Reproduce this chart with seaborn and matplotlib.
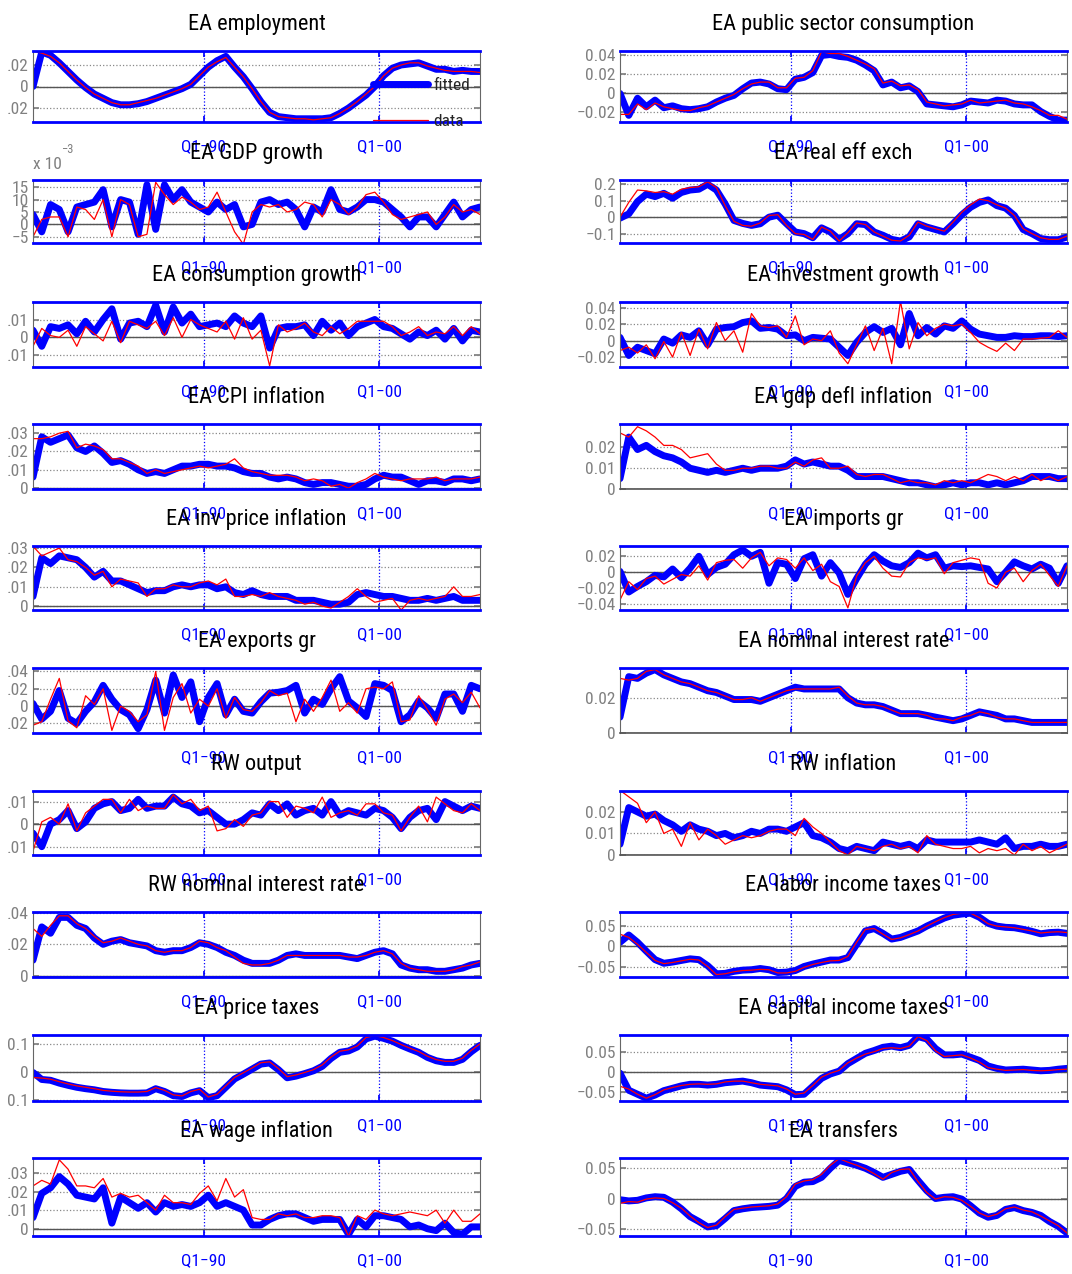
import numpy as np
import matplotlib
matplotlib.use("Agg")
import matplotlib.pyplot as plt
import seaborn as sns
from matplotlib import font_manager

sns.set_theme(style="white")

# look for a narrow / condensed sans face (MATLAB-style Helvetica Narrow look)
def _plain(f):
    low = f.fname.lower()
    return not any(k in low for k in ["bold", "italic", "oblique", "light", "thin", "medium", "black"])

narrow_face = None
for key in ["liberationsansnarrow", "robotocondensed", "dejavusanscondensed", "narrow", "condensed"]:
    hits = [f for f in font_manager.fontManager.ttflist
            if key in f.fname.lower().replace("-", "").replace("_", "") and _plain(f)]
    if hits:
        narrow_face = hits[0]
        break

if narrow_face is not None:
    plt.rcParams["font.family"] = [narrow_face.name, "DejaVu Sans"]
    plt.rcParams["font.stretch"] = narrow_face.stretch
    size_k = 1.0
else:
    plt.rcParams["font.family"] = ["Liberation Sans", "DejaVu Sans"]
    size_k = 0.85

# Const
fit_color = "#0000FF"
data_color = "#FF0000"
grey = "#808080"

# quarter index (0 = Q2-80), one sample every two quarters
quarters = np.arange(0, 104, 2)
xtick_pos = [39, 79]
xtick_labels = ["Q1\u221290", "Q1\u221200"]

SCALE = 1e-3  # series below are stored in thousandths

emp_fit = [0, 32, 29, 22, 14, 6, -1, -7, -11, -15, -17, -17, -16,
           -14, -11, -8, -5, -2, 2, 10, 18, 24, 28, 18, 9, -2,
           -14, -24, -28, -29, -30, -30, -30, -30, -29, -25, -20, -14, -8,
           0, 10, 17, 20, 21, 22, 19, 16, 16, 14, 15, 14, 14]
emp_data = [33, 31, 28, 22, 14, 6, -1, -7, -11, -15, -17, -17, -15,
            -13, -11, -8, -5, -2, 2, 10, 18, 23, 27, 18, 9, -2,
            -14, -24, -28, -29, -30, -30, -31, -30, -29, -25, -20, -14, -7,
            0, 10, 17, 20, 22, 22, 19, 17, 15, 14, 14, 14, 13]

gdp_fit = [4, -3, 8, 6, -3, 7, 8, 9, 14, -1, 10, 9, -4,
           16, -2, 16, 10, 14, 9, 7, 5, 9, 6, 8, -1, 0,
           9, 10, 8, 9, 6, -1, 7, 5, 14, 6, 5, 7, 10,
           10, 9, 6, 3, -1, 3, 3, -1, 4, 9, 3, 6, 7]
gdp_data = [-5, 2, 3, 3, -5, 7, 6, 2, 10, -5, 10, 8, -5,
            -4, 17, 12, 8, 11, 9, 6, 7, 13, 5, -3, -8, 5,
            8, 7, 8, 5, 6, 9, 8, 3, 10, 8, 4, 7, 12,
            13, 9, 4, 2, 3, 4, 5, 0, 3, 8, 5, 6, 4]

pubc_fit = [0, -23, -5, -14, -7, -15, -13, -16, -17, -16, -14, -9, -5,
            -2, 5, 11, 12, 10, 5, 4, 15, 17, 22, 40, 41, 39,
            38, 35, 30, 24, 9, 12, 6, 8, 2, -11, -12, -13, -14,
            -12, -8, -9, -10, -7, -8, -11, -12, -12, -19, -24, -28, -28]
pubc_data = [-22, -22, -11, -17, -10, -14, -16, -18, -18, -15, -13, -9, -5,
             -1, 5, 10, 12, 12, 6, 6, 16, 17, 24, 44, 42, 42,
             39, 35, 31, 26, 11, 13, 8, 9, 4, -9, -11, -13, -12,
             -11, -7, -10, -9, -8, -7, -10, -11, -14, -18, -23, -23, -27]

reer_fit = [-6, 20, 95, 140, 125, 145, 115, 150, 165, 170, 200, 165, 80,
            -20, -38, -50, -40, 0, 12, -40, -90, -100, -125, -65, -90, -135,
            -100, -40, -45, -90, -110, -135, -145, -120, -40, -60, -75, -90, -40,
            15, 60, 90, 105, 70, 55, 10, -75, -100, -130, -137, -137, -121]
reer_data = [0, 90, 165, 160, 150, 155, 140, 170, 180, 185, 215, 180, 70,
             -25, -50, -55, -35, 10, 15, -50, -100, -105, -135, -60, -85, -145,
             -95, -35, -45, -90, -115, -140, -145, -110, -30, -55, -70, -85, -30,
             30, 75, 110, 100, 75, 55, 10, -70, -100, -125, -135, -135, -115]

cons_fit = [4, -5, 6, 5, 7, 2, 9, 3, 10, 16, -1, 8, 9,
            6, 18, 3, 17, 8, 13, 6, 7, 8, 6, 12, 8, 6,
            12, -6, 5, 6, 6, 7, 1, 9, 4, 8, 1, 6, 8,
            10, 6, 5, 2, -1, 3, 1, 4, -1, 5, -2, 4, 3]
cons_data = [-5, 5, 1, 0, 4, -5, 6, 2, -2, 9, -3, 9, 7,
             5, 9, 1, 11, 0, 10, 7, 5, 3, 9, -1, 11, -1,
             4, -16, 7, 3, 5, 8, 3, 1, 6, 2, 5, 9, 9,
             9, 9, 6, 1, 3, 6, 1, 3, 2, 6, 1, 6, 2]

inv_fit = [4, -18, -8, -12, -16, 2, -3, 7, 4, 12, -5, 14, 16,
           17, 22, 24, 15, 16, 14, 6, 7, 0, 4, 3, 2, -8,
           -18, -2, 10, 17, 10, 15, -5, 33, 6, 16, 8, 18, 15,
           24, 14, 8, 6, 4, 4, 6, 5, 5, 6, 6, 5, 6]
inv_data = [-12, -8, -15, -5, -22, -1, -20, 10, -18, 14, -10, 22, 0,
            12, -14, 33, 18, 16, 18, 4, 30, -5, 2, 0, 12, -15,
            -28, -5, 18, -12, 15, -28, 48, -10, 22, 6, 15, 20, 18,
            20, 10, -2, -8, -13, -3, -12, 2, 2, 3, 4, 12, 4]

cpi_fit = [6, 28, 25, 27, 29, 22, 20, 23, 19, 14, 15, 13, 10,
           8, 9, 8, 10, 12, 12, 13, 13, 12, 12, 11, 9, 8,
           8, 6, 5, 6, 5, 3, 2, 3, 3, 2, 1, 1, 2,
           5, 7, 6, 6, 4, 2, 4, 4, 3, 5, 5, 4, 5]
cpi_data = [27, 27, 28, 30, 31, 22, 24, 23, 21, 16, 16, 14, 12,
            8, 10, 8, 9, 10, 11, 12, 11, 12, 13, 16, 11, 9,
            8, 7, 7, 7, 6, 4, 5, 4, 1, 2, 0, 3, 5,
            8, 6, 5, 4, 5, 5, 5, 6, 4, 5, 5, 5, 6]

defl_fit = [5, 25, 19, 21, 18, 16, 15, 13, 10, 9, 8, 9, 8,
            9, 10, 9, 10, 10, 10, 11, 14, 12, 13, 12, 11, 11,
            9, 6, 6, 6, 6, 5, 4, 3, 3, 2, 1, 2, 3,
            2, 3, 3, 2, 3, 2, 3, 4, 6, 6, 6, 5, 5]
defl_data = [27, 25, 30, 28, 25, 21, 21, 19, 15, 16, 17, 12, 9,
             9, 10, 10, 11, 11, 10, 10, 13, 11, 14, 15, 10, 10,
             11, 7, 6, 7, 7, 5, 3, 4, 3, 3, 2, 4, 3,
             4, 3, 5, 7, 6, 4, 6, 4, 7, 4, 6, 4, 6]

invp_fit = [5, 25, 22, 26, 25, 24, 20, 15, 18, 13, 13, 11, 9,
            7, 8, 8, 10, 11, 10, 11, 11, 9, 10, 7, 6, 8,
            6, 5, 5, 5, 3, 3, 3, 2, 1, 1, 2, 6, 7,
            6, 5, 5, 4, 3, 3, 4, 3, 4, 5, 3, 3, 3]
invp_data = [31, 26, 28, 30, 24, 23, 20, 16, 18, 10, 14, 13, 12,
             5, 9, 9, 11, 10, 10, 12, 13, 11, 14, 5, 5, 6,
             5, 7, 5, 4, 3, 1, 2, 0, -1, 2, 5, 9, 5,
             2, 3, 4, -2, 3, 4, 3, 4, 5, 10, 5, 5, 6]

imp_fit = [1, -25, -18, -12, -4, -6, 4, -7, 5, 20, -3, 6, 10,
           22, 28, 20, 25, -14, 12, 10, -8, 17, 22, -5, 12, -1,
           -28, -8, 10, 22, 14, 8, 6, 12, 24, 18, 22, 5, 8,
           7, 8, 6, 4, -12, 0, 13, 8, 4, 10, 5, -14, 8]
imp_data = [-35, -12, -22, -8, -5, -15, -9, -3, -5, 8, -10, 12, 15,
            16, 5, 18, 25, 8, 18, 16, 5, 18, 2, 10, -12, -18,
            -45, -5, 12, 20, 5, -5, -6, 12, 18, 16, 18, -2, 12,
            15, 18, 16, -14, -20, 0, 5, -12, 2, 10, -4, -18, 8]

exp_fit = [3, -15, -6, 18, -14, -20, -6, 5, 24, 8, -4, -10, -26,
           -4, 30, -8, 36, 10, 28, -18, 10, 26, -10, 8, -6, -8,
           5, 15, 16, 18, 24, -8, 8, 2, 20, 34, 6, -2, -12,
           26, 24, 18, -18, -10, 6, -2, -14, 14, 14, -6, 24, 20]
exp_data = [-22, -18, 8, 32, -17, -25, 12, 2, 20, -28, 0, -6, -18,
            -10, 40, -28, 10, 26, -8, 8, 0, 20, -14, 10, -4, -6,
            4, 18, 12, 15, -18, 8, -6, 10, 30, -6, 4, -8, 20,
            22, 20, 28, -18, -16, 12, -4, -22, 8, 14, 4, 16, -2]

rate_fit = [9, 32, 31, 34, 36, 33, 31, 29, 28, 26, 24, 23, 21,
            19, 19, 19, 18, 20, 22, 24, 26, 25, 25, 25, 25, 25,
            20, 17, 16, 16, 15, 13, 11, 11, 11, 10, 9, 8, 7,
            8, 10, 12, 11, 10, 8, 8, 7, 6, 6, 6, 6, 6]
rate_data = [31, 30, 31, 35, 36, 33, 31, 29, 28, 26, 24, 23, 21,
             19, 19, 20, 18, 20, 22, 24, 25, 25, 25, 25, 25, 26,
             21, 17, 16, 16, 15, 13, 11, 11, 11, 10, 8, 8, 7,
             9, 10, 12, 11, 9, 8, 8, 7, 6, 6, 6, 6, 6]

rwy_fit = [-4, -10, 0, 2, 6, -2, 1, 7, 9, 10, 6, 7, 11,
           7, 8, 8, 12, 9, 8, 5, 6, 3, 0, 0, 2, 5,
           4, 9, 6, 9, 4, 6, 7, 4, 10, 4, 6, 5, 4,
           7, 6, 3, -2, 3, 6, 7, 2, 10, 8, 6, 8, 7]
rwy_data = [-12, 1, 3, 0, 9, -3, 5, 8, 11, 11, 5, 11, 6,
            8, 7, 7, 13, 9, 11, 6, 8, -3, -2, 2, -1, 4,
            5, 10, 10, 3, 8, 7, 5, 12, 3, 5, 6, 4, 9,
            9, 5, 4, -3, 3, 8, 1, 12, 9, 6, 5, 9, 6]

rwpi_fit = [5, 22, 20, 18, 19, 16, 14, 11, 14, 12, 11, 9, 10,
            8, 9, 11, 10, 12, 12, 11, 13, 15, 9, 8, 6, 3,
            2, 4, 3, 2, 6, 5, 4, 5, 3, 7, 6, 6, 6,
            6, 6, 7, 6, 5, 8, 3, 4, 4, 5, 4, 4, 5]
rwpi_data = [30, 27, 24, 15, 20, 10, 12, 4, 15, 7, 12, 9, 5,
             7, 9, 8, 9, 11, 12, 12, 9, 17, 13, 10, 6, 2,
             0, 4, 3, 2, 4, 5, 3, 4, 1, 9, 5, 4, 3,
             3, 4, 1, 3, 2, 3, 0, 5, 2, 4, 1, 3, 5]

rwr_fit = [10, 31, 27, 37, 37, 32, 30, 24, 20, 22, 23, 21, 20,
           19, 16, 15, 16, 16, 18, 21, 20, 18, 15, 13, 10, 8,
           8, 8, 10, 13, 14, 13, 13, 13, 13, 13, 12, 11, 13,
           15, 16, 14, 7, 5, 4, 4, 3, 3, 4, 5, 7, 8]
rwr_data = [30, 25, 32, 38, 38, 33, 30, 25, 21, 22, 24, 22, 20,
            19, 16, 15, 16, 16, 18, 22, 21, 18, 16, 12, 8, 7,
            7, 8, 10, 13, 13, 13, 13, 13, 13, 13, 12, 12, 13,
            15, 16, 14, 8, 5, 4, 3, 3, 3, 4, 6, 7, 9]

labt_fit = [10, 28, 10, -12, -33, -42, -39, -35, -31, -33, -48, -68, -67,
            -62, -59, -58, -55, -58, -65, -64, -60, -50, -44, -39, -34, -34,
            -28, 5, 38, 44, 32, 18, 22, 30, 38, 50, 60, 70, 77,
            80, 82, 72, 57, 50, 47, 46, 42, 37, 31, 34, 35, 32]
labt_data = [30, 22, 5, -15, -35, -43, -40, -36, -32, -34, -50, -70, -68,
             -63, -60, -59, -57, -58, -66, -66, -62, -52, -45, -40, -36, -35,
             -25, 10, 42, 44, 30, 17, 21, 29, 38, 50, 61, 71, 79,
             82, 82, 71, 56, 50, 48, 46, 42, 38, 33, 35, 36, 34]

ptax_fit = [-2, -27, -30, -40, -48, -55, -60, -64, -70, -73, -75, -76, -76,
            -75, -60, -70, -85, -88, -75, -67, -92, -85, -55, -25, -8, 10,
            28, 32, 8, -21, -15, -6, 4, 20, 48, 70, 75, 89, 118,
            128, 120, 110, 95, 82, 70, 52, 40, 34, 34, 45, 72, 95]
ptax_data = [-20, -22, -26, -35, -43, -50, -55, -60, -66, -69, -71, -72, -72,
             -70, -56, -66, -82, -86, -70, -62, -90, -80, -50, -20, -3, 14,
             33, 36, 12, -17, -11, -2, 8, 25, 53, 74, 79, 93, 123,
             130, 123, 112, 98, 85, 73, 56, 44, 38, 38, 49, 77, 100]

ctax_fit = [-2, -45, -55, -65, -57, -46, -40, -34, -30, -30, -32, -30, -26,
            -24, -22, -26, -32, -34, -36, -44, -56, -55, -35, -15, -4, 3,
            22, 35, 48, 55, 63, 66, 62, 68, 90, 84, 60, 44, 44,
            46, 38, 30, 16, 10, 6, 7, 8, 6, 4, 5, 8, 10]
ctax_data = [-35, -42, -55, -65, -56, -44, -38, -33, -30, -29, -30, -29, -24,
             -22, -22, -26, -30, -32, -34, -42, -55, -52, -33, -12, -2, 5,
             24, 36, 46, 52, 60, 62, 60, 66, 90, 80, 54, 40, 42,
             44, 36, 26, 12, 8, 5, 6, 7, 5, 4, 5, 7, 8]

wage_fit = [6, 19, 22, 28, 24, 18, 17, 16, 22, 3, 17, 14, 11,
            14, 9, 14, 12, 13, 12, 14, 18, 12, 14, 12, 10, 2,
            2, 5, 7, 8, 8, 6, 4, 5, 5, 5, -3, 5, 1,
            7, 7, 6, 5, 1, 2, 0, -1, 3, -2, -3, 1, 1]
wage_data = [23, 26, 24, 37, 32, 23, 23, 22, 27, 17, 19, 17, 18,
             14, 10, 18, 14, 14, 13, 19, 23, 15, 27, 17, 21, 6,
             5, 5, 8, 7, 8, 6, 6, 7, 7, 6, -4, 7, 5,
             10, 8, 7, 8, 9, 8, 7, 10, 3, 10, 4, 4, 8]

trans_fit = [-2, -4, -3, 1, 3, 2, -6, -17, -30, -38, -47, -45, -33,
             -20, -17, -15, -14, -13, -11, 0, 20, 27, 28, 35, 50, 63,
             59, 55, 50, 43, 35, 40, 45, 48, 30, 13, 0, 2, 3,
             -1, -12, -24, -31, -28, -18, -15, -20, -23, -28, -38, -46, -57]
trans_data = [-8, -5, -6, -1, 1, 0, -7, -16, -29, -40, -48, -44, -30,
              -18, -16, -14, -13, -12, -9, 3, 24, 29, 31, 40, 55, 66,
              60, 55, 49, 41, 32, 43, 48, 49, 28, 10, -1, 3, 2,
              -3, -13, -24, -30, -26, -17, -14, -19, -22, -29, -37, -45, -57]

M = "\u2212"
# (title, fitted, data, ylim, yticks, ytick labels) -- left column then right column
left_panels = [
    ("EA employment", emp_fit, emp_data, (-0.033, 0.033), [-0.02, 0, 0.02], [".02", "0", ".02"]),
    ("EA GDP growth", gdp_fit, gdp_data, (-0.0075, 0.0179), [-0.005, 0, 0.005, 0.01, 0.015],
     [M + "5", "0", "5", "10", "15"]),
    ("EA consumption growth", cons_fit, cons_data, (-0.0166, 0.0198), [-0.01, 0, 0.01], [".01", "0", ".01"]),
    ("EA CPI inflation", cpi_fit, cpi_data, (-0.0005, 0.035), [0, 0.01, 0.02, 0.03], ["0", ".01", ".02", ".03"]),
    ("EA inv price inflation", invp_fit, invp_data, (-0.002, 0.0311), [0, 0.01, 0.02, 0.03],
     ["0", ".01", ".02", ".03"]),
    ("EA exports gr", exp_fit, exp_data, (-0.031, 0.044), [-0.02, 0, 0.02, 0.04], [".02", "0", ".02", ".04"]),
    ("RW output", rwy_fit, rwy_data, (-0.0137, 0.0147), [-0.01, 0, 0.01], [".01", "0", ".01"]),
    ("RW nominal interest rate", rwr_fit, rwr_data, (-0.0006, 0.0404), [0, 0.02, 0.04], ["0", ".02", ".04"]),
    ("EA price taxes", ptax_fit, ptax_data, (-0.104, 0.132), [-0.1, 0, 0.1], ["0.1", "0", "0.1"]),
    ("EA wage inflation", wage_fit, wage_data, (-0.0039, 0.038), [0, 0.01, 0.02, 0.03],
     ["0", ".01", ".02", ".03"]),
]
right_panels = [
    ("EA public sector consumption", pubc_fit, pubc_data, (-0.030, 0.0447), [-0.02, 0, 0.02, 0.04],
     [M + "0.02", "0", "0.02", "0.04"]),
    ("EA real eff exch", reer_fit, reer_data, (-0.157, 0.226), [-0.1, 0, 0.1, 0.2],
     [M + "0.1", "0", "0.1", "0.2"]),
    ("EA investment growth", inv_fit, inv_data, (-0.032, 0.047), [-0.02, 0, 0.02, 0.04],
     [M + "0.02", "0", "0.02", "0.04"]),
    ("EA gdp defl inflation", defl_fit, defl_data, (0, 0.0313), [0, 0.01, 0.02], ["0", "0.01", "0.02"]),
    ("EA imports gr", imp_fit, imp_data, (-0.0477, 0.033), [-0.04, -0.02, 0, 0.02],
     [M + "0.04", M + "0.02", "0", "0.02"]),
    ("EA nominal interest rate", rate_fit, rate_data, (0, 0.0369), [0, 0.02], ["0", "0.02"]),
    ("RW inflation", rwpi_fit, rwpi_data, (0, 0.0297), [0, 0.01, 0.02], ["0", "0.01", "0.02"]),
    ("EA labor income taxes", labt_fit, labt_data, (-0.076, 0.085), [-0.05, 0, 0.05],
     [M + "0.05", "0", "0.05"]),
    ("EA capital income taxes", ctax_fit, ctax_data, (-0.072, 0.094), [-0.05, 0, 0.05],
     [M + "0.05", "0", "0.05"]),
    ("EA transfers", trans_fit, trans_data, (-0.062, 0.067), [-0.05, 0, 0.05],
     [M + "0.05", "0", "0.05"]),
]

W, H = 1072, 1274
fig = plt.figure(figsize=(W / 100, H / 100), dpi=100)
fig.patch.set_facecolor("white")

rows_px = [(51, 122), (180, 243), (302, 367), (424, 489), (546, 610),
           (668, 733), (791, 855), (912, 977), (1035, 1101), (1158, 1236)]
cols_px = [33, 620]
width_px = 447

title_fs = 16 * size_k
tick_fs = 12.5 * size_k


def draw_panel(ax, title, fit, data, ylim, yticks, ylabels):
    sns.lineplot(x=quarters, y=np.array(fit) * SCALE, ax=ax, color=fit_color, linewidth=5)
    fit_line = ax.lines[-1]
    sns.lineplot(x=quarters, y=np.array(data) * SCALE, ax=ax, color=data_color, linewidth=0.9)
    data_line = ax.lines[-1]
    ax.axhline(0, color="#555555", linewidth=1.0, zorder=1.5)
    ax.set_xlim(0, 102)
    ax.set_ylim(*ylim)
    ax.set_xticks(xtick_pos)
    ax.set_xticklabels(xtick_labels)
    ax.set_yticks(yticks)
    ax.set_yticklabels(ylabels)
    ax.set_xlabel("")
    ax.set_ylabel("")
    ax.set_title(title, fontsize=title_fs, pad=15, color="black")
    ax.tick_params(axis="y", colors=grey, labelsize=tick_fs, direction="in", length=4,
                   left=True, right=True, pad=3)
    ax.tick_params(axis="x", colors="blue", labelsize=tick_fs, direction="in", length=4,
                   top=True, bottom=True, pad=12)
    ax.yaxis.grid(True, linestyle=":", color="#888888", linewidth=0.9)
    ax.xaxis.grid(True, linestyle=":", color="blue", linewidth=0.9)
    for side in ["top", "bottom"]:
        ax.spines[side].set_color("blue")
        ax.spines[side].set_linewidth(2.0)
    if ylim[0] >= 0:
        ax.spines["bottom"].set_color("#555555")
        ax.spines["bottom"].set_linewidth(1.2)
    for side in ["left", "right"]:
        ax.spines[side].set_color("#666666")
        ax.spines[side].set_linewidth(0.8)
    return fit_line, data_line


for col, panels in enumerate([left_panels, right_panels]):
    for row, (title, fit, data, ylim, yticks, ylabels) in enumerate(panels):
        top, bottom = rows_px[row]
        ax = fig.add_axes([cols_px[col] / W, 1 - bottom / H, width_px / W, (bottom - top) / H])
        fit_line, data_line = draw_panel(ax, title, fit, data, ylim, yticks, ylabels)
        if col == 0 and row == 0:
            ax.legend([fit_line, data_line], ["fitted", "data"], loc="lower left",
                      bbox_to_anchor=(0.76, -0.1), frameon=False, fontsize=tick_fs,
                      handlelength=3.2, handletextpad=0.3, labelspacing=1.2,
                      borderpad=0, borderaxespad=0)
        if col == 0 and row == 1:
            ax.text(0.0, 1.12, "x 10", transform=ax.transAxes, ha="left", va="bottom",
                    color=grey, fontsize=tick_fs)
            ax.text(0.062, 1.38, M + "3", transform=ax.transAxes, ha="left", va="bottom",
                    color=grey, fontsize=9)

fig.savefig("out.png", dpi=100)
